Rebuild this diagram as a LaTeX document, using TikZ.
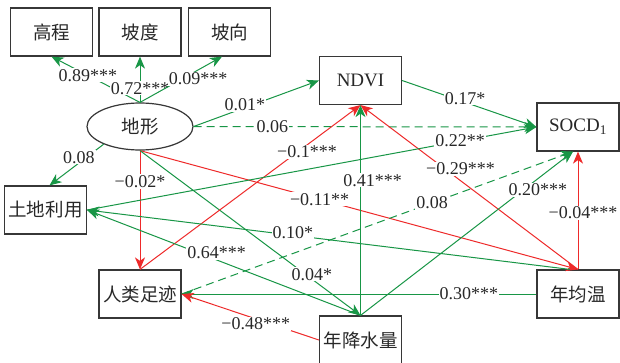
\documentclass[tikz,border=0pt]{standalone}
\usepackage{fontspec}
\setmainfont{Liberation Serif}
\newfontfamily\cjk{Noto Sans CJK SC}
\usetikzlibrary{arrows.meta,shapes.geometric}
\definecolor{pathgreen}{RGB}{24,150,70}
\definecolor{pathred}{RGB}{238,42,42}
\definecolor{boxline}{RGB}{55,55,55}
\definecolor{inktext}{RGB}{40,40,40}

\begin{document}
\begin{tikzpicture}[x=1pt,y=-1pt,
  varbox/.style={draw=boxline,line width=1.2pt,minimum width=82pt,minimum height=48pt,
    inner sep=0pt,text=inktext,font=\fontsize{19}{22}\selectfont},
  cjkbox/.style={varbox,font=\cjk\fontsize{18.5}{22}\selectfont},
  latent/.style={ellipse,draw=boxline,line width=1.2pt,minimum width=106pt,minimum height=47pt,
    inner sep=0pt,text=inktext,font=\cjk\fontsize{18.5}{22}\selectfont},
  gpath/.style={draw=pathgreen,line width=1pt,-{Stealth[length=12pt,width=10pt,inset=3.5pt]}},
  rpath/.style={draw=pathred,line width=1pt,-{Stealth[length=12pt,width=10pt,inset=3.5pt]}},
  gdash/.style={gpath,dash pattern=on 8pt off 5pt},
  lbl/.style={fill=white,inner sep=1pt,text=inktext,font=\fontsize{18}{20}\selectfont}
]
\fill[white] (0,0) rectangle (620,362);
\useasboundingbox (0,0) rectangle (620,362);

% variables
\node[cjkbox] (gc) at (51.5,32) {高程};
\node[cjkbox] (pd) at (140,32) {坡度};
\node[cjkbox] (px) at (229.5,32) {坡向};
\node[latent] (dx) at (140,126.5) {地形};
\node[varbox] (ndvi) at (360.5,80.5) {NDVI};
\node[varbox] (socd) at (578,127) {SOCD\textsubscript{1}};
\node[cjkbox] (td) at (45.5,210) {土地利用};
\node[cjkbox] (rl) at (140,294) {人类足迹};
\node[cjkbox] (js) at (360.5,340) {年降水量};
\node[cjkbox] (njw) at (578,294) {年均温};

% terrain indicators
\draw[gpath] (dx.north) -- node[lbl,pos=0.59] {0.89***} (gc.south);
\draw[gpath] (dx.north) -- node[lbl,pos=0.31] {0.72***} (pd.south);
\draw[gpath] (dx.north) -- node[lbl,pos=0.71,yshift=-9pt] {0.09***} ([xshift=-7.5pt]px.south);

% paths from terrain
\draw[gpath] (dx.east) -- node[lbl,pos=0.41,yshift=3pt] {0.01*} (ndvi.west);
\draw[gdash] (dx.east) -- node[lbl,pos=0.23] {0.06} (socd.west);
\draw[gpath] (dx.206) -- node[lbl,pos=0.46,yshift=6pt] {0.08} ([xshift=4pt]td.north);
\draw[rpath] (dx.south) -- node[lbl,pos=0.26] {−0.02*} (rl.north);
\draw[rpath] (dx.south) -- node[lbl,pos=0.41] {−0.11**} (njw.north);
\draw[gpath] (dx.south) -- node[lbl,pos=0.78,yshift=5pt] {0.04*} (js.north);

% paths into NDVI
\draw[rpath] (rl.north) -- node[lbl,pos=0.757,yshift=-7pt] {−0.1***} (ndvi.south);
\draw[gpath] (js.north) -- node[lbl,pos=0.643,xshift=12pt] {0.41***} (ndvi.south);
\draw[rpath] (njw.north) -- node[lbl,pos=0.54,yshift=12pt] {−0.29***} (ndvi.south);

% paths into SOCD
\draw[gpath] (ndvi.east) -- node[lbl,pos=0.47,yshift=4pt] {0.17*} (socd.west);
\draw[gpath] (td.east) -- node[lbl,pos=0.83] {0.22**} (socd.west);
\draw[rpath] (njw.north) -- node[lbl,pos=0.48,xshift=5pt] {−0.04***} (socd.south);
\draw[gpath] (js.north) -- node[lbl,pos=0.835,yshift=-11pt] {0.20***} ([xshift=-5pt]socd.south);
\draw[gdash] (rl.east) -- node[lbl,pos=0.64] {0.08} ([xshift=-5pt]socd.south);

% paths into land use
\draw[gpath] ([xshift=-8pt]njw.north) -- node[lbl,pos=0.574,yshift=3pt] {0.10*} (td.east);
\draw[gpath] (js.north) -- node[lbl,pos=0.526,yshift=7pt] {0.64***} (td.east);

% paths into human footprint
\draw[gpath] (njw.west) -- node[lbl,pos=0.19] {0.30***} (rl.east);
\draw[rpath] (js.west) -- node[lbl,pos=0.46,yshift=-5pt] {−0.48***} (rl.east);
\end{tikzpicture}
\end{document}
